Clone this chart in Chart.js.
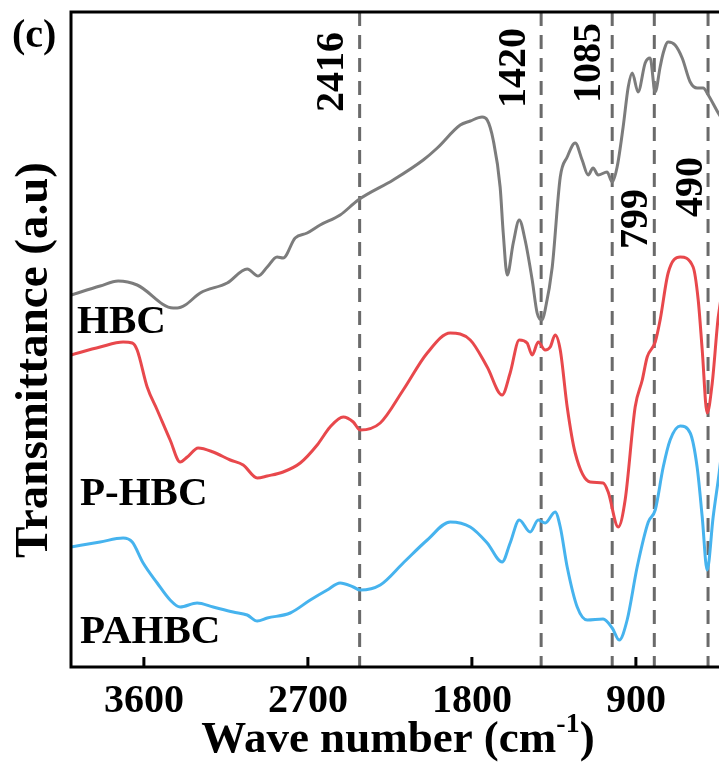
<!DOCTYPE html>
<html>
<head>
<meta charset="utf-8">
<title>FTIR (c)</title>
<script src="https://cdn.jsdelivr.net/npm/chart.js@4.4.1/dist/chart.umd.min.js"></script>
<style>
  html, body { margin: 0; padding: 0; background: #fff; overflow: hidden; }
  #wrap { width: 719px; height: 769px; overflow: hidden; }
</style>
</head>
<body>
<div id="wrap"><canvas id="myChart" width="727" height="769"></canvas></div>
<script>
// wave numbers (cm-1) and transmittance (a.u.)
const hbcWn = [4000, 3840, 3741, 3637, 3439, 3417, 3373, 3291, 3143, 3033, 2973, 2923, 2869, 2836, 2770, 2704, 2633, 2523, 2424, 2232, 2067, 1990, 1864, 1809, 1744, 1716, 1683, 1645, 1628, 1606, 1573, 1540, 1508, 1469, 1442, 1414, 1398, 1359, 1315, 1277, 1233, 1195, 1162, 1135, 1107, 1058, 1030, 1003, 970, 942, 920, 888, 849, 822, 794, 767, 750, 723, 685, 646, 602, 564, 531, 503, 448, 400];
const hbcT = [372, 381, 386, 382, 359, 359, 362, 374, 384, 398, 391, 400, 410, 409, 429, 434, 442, 452, 467, 487, 507, 519, 542, 546, 550, 547, 527, 480, 434, 392, 424, 447, 427, 387, 354, 347, 357, 400, 490, 510, 524, 507, 492, 499, 492, 495, 485, 500, 540, 580, 594, 575, 604, 609, 575, 600, 614, 625, 622, 609, 585, 579, 579, 572, 554, 540];

const phbcWn = [4000, 3840, 3714, 3664, 3637, 3582, 3527, 3456, 3401, 3362, 3302, 3220, 3126, 3055, 2978, 2923, 2836, 2742, 2649, 2578, 2506, 2451, 2413, 2303, 2177, 2045, 1919, 1809, 1716, 1634, 1590, 1540, 1497, 1469, 1436, 1398, 1370, 1343, 1315, 1277, 1233, 1151, 1080, 1052, 997, 959, 904, 865, 838, 794, 767, 723, 657, 586, 558, 536, 509, 481, 448, 400];
const phbcT = [312, 320, 325, 324, 317, 280, 257, 227, 205, 210, 219, 215, 207, 202, 189, 191, 195, 204, 222, 240, 250, 245, 237, 244, 277, 314, 334, 327, 300, 272, 294, 327, 324, 312, 325, 317, 320, 332, 317, 260, 214, 185, 184, 175, 140, 167, 260, 287, 310, 325, 347, 394, 410, 400, 367, 317, 254, 284, 350, 400];

const pahbcWn = [4000, 3840, 3714, 3664, 3604, 3527, 3456, 3401, 3308, 3220, 3110, 3033, 2978, 2923, 2797, 2687, 2594, 2523, 2451, 2413, 2303, 2177, 2045, 1919, 1809, 1716, 1634, 1590, 1540, 1480, 1436, 1398, 1343, 1315, 1277, 1222, 1167, 1080, 1030, 992, 948, 893, 832, 794, 750, 712, 657, 602, 564, 536, 509, 476, 443, 400];
const pahbcT = [120, 125, 129, 125, 104, 84, 67, 60, 64, 60, 55, 52, 46, 49, 54, 67, 77, 84, 80, 77, 82, 104, 127, 145, 140, 124, 105, 124, 147, 135, 147, 144, 155, 140, 100, 60, 47, 48, 39, 27, 47, 100, 145, 157, 200, 227, 241, 234, 200, 150, 97, 150, 194, 260];

// dashed marker lines (where they sit in the figure) and their labels
const markerWn = [2416, 1420, 1030, 799, 504];
const markerText = ["2416", "1420", "1085", "799", "490"];

const xTicks = [3600, 2700, 1800, 900];
const seriesNames = ["HBC", "P-HBC", "PAHBC"];

const FONT = '"Liberation Serif", "Times New Roman", serif';
const Y_MAX = 655;

function toPoints(xs, ys) {
  const pts = [];
  for (let i = 0; i < xs.length; i++) pts.push({ x: xs[i], y: ys[i] });
  return pts;
}

function spectrum(label, xs, ys, color) {
  return {
    label: label,
    data: toPoints(xs, ys),
    borderColor: color,
    borderWidth: 3,
    pointRadius: 0,
    cubicInterpolationMode: "monotone",
    fill: false,
  };
}

const datasets = [
  spectrum("HBC", hbcWn, hbcT, "#7c7c7c"),
  spectrum("P-HBC", phbcWn, phbcT, "#e8484c"),
  spectrum("PAHBC", pahbcWn, pahbcT, "#46b3ee"),
];
markerWn.forEach(function (w) {
  datasets.push({
    data: [{ x: w, y: Y_MAX }, { x: w, y: 0 }],
    borderColor: "#6a6a6a",
    borderWidth: 3,
    borderDash: [14, 9],
    pointRadius: 0,
    tension: 0,
  });
});

// label placement: offset of rotated text baseline from its line, and centre y
const markerLabelPos = [
  { dx: -17, y: 72 },
  { dx: -16, y: 68 },
  { dx: -12, y: 63 },
  { dx: -7, y: 219 },
  { dx: -6, y: 187 },
];
const seriesLabelPos = [
  { x: 77, y: 333 },
  { x: 80, y: 505 },
  { x: 80, y: 643 },
];

const decorPlugin = {
  id: "decor",
  afterDraw(chart) {
    const ctx = chart.ctx;
    const a = chart.chartArea;
    const xs = chart.scales.x;

    ctx.save();
    ctx.fillStyle = "#000";
    ctx.strokeStyle = "#000";

    // frame (right side is outside the window)
    ctx.lineWidth = 3;
    ctx.beginPath();
    ctx.moveTo(a.right + 2, a.top);
    ctx.lineTo(a.left, a.top);
    ctx.lineTo(a.left, a.bottom);
    ctx.lineTo(a.right + 2, a.bottom);
    ctx.stroke();

    // inward ticks + labels
    ctx.font = "bold 40px " + FONT;
    ctx.textAlign = "center";
    ctx.textBaseline = "alphabetic";
    xs.ticks.forEach(function (t) {
      const px = xs.getPixelForValue(t.value);
      ctx.beginPath();
      ctx.moveTo(px, a.bottom);
      ctx.lineTo(px, a.bottom - 10);
      ctx.stroke();
      ctx.fillText(String(t.value), px, 712);
    });

    // x title with superscript
    const main = "Wave number (cm";
    const sup = "-1";
    const close = ")";
    ctx.font = "bold 45px " + FONT;
    const wMain = ctx.measureText(main).width;
    const wClose = ctx.measureText(close).width;
    ctx.font = "bold 28px " + FONT;
    const wSup = ctx.measureText(sup).width;
    const total = wMain + wSup + wClose;
    let tx = 398 - total / 2;
    ctx.textAlign = "left";
    ctx.font = "bold 45px " + FONT;
    ctx.fillText(main, tx, 752);
    tx += wMain;
    ctx.font = "bold 28px " + FONT;
    ctx.fillText(sup, tx, 732);
    tx += wSup;
    ctx.font = "bold 45px " + FONT;
    ctx.fillText(close, tx, 752);

    // y title
    ctx.save();
    ctx.translate(47, 360);
    ctx.rotate(-Math.PI / 2);
    ctx.textAlign = "center";
    ctx.font = "bold 47px " + FONT;
    ctx.fillText("Transmittance (a.u)", 0, 0);
    ctx.restore();

    // panel letter
    ctx.font = "bold 40px " + FONT;
    ctx.textAlign = "left";
    ctx.fillText("(c)", 12, 47);

    // series names
    ctx.font = "bold 41px " + FONT;
    seriesNames.forEach(function (n, i) {
      ctx.fillText(n, seriesLabelPos[i].x, seriesLabelPos[i].y);
    });

    // marker labels, rotated
    ctx.font = "bold 40px " + FONT;
    ctx.textAlign = "center";
    markerWn.forEach(function (w, i) {
      const px = xs.getPixelForValue(w) + markerLabelPos[i].dx;
      ctx.save();
      ctx.translate(px, markerLabelPos[i].y);
      ctx.rotate(-Math.PI / 2);
      ctx.fillText(markerText[i], 0, 0);
      ctx.restore();
    });

    ctx.restore();
  },
};

const ctx = document.getElementById("myChart").getContext("2d");
const myChart = new Chart(ctx, {
  type: "line",
  data: { datasets: datasets },
  options: {
    responsive: false,
    animation: false,
    layout: { padding: { top: 12, left: 0, right: 0, bottom: 0 } },
    plugins: { legend: { display: false }, tooltip: { enabled: false } },
    scales: {
      x: {
        type: "linear",
        reverse: true,
        min: 400,
        max: 4000,
        grid: { display: false },
        border: { display: false },
        ticks: { display: false },
        afterBuildTicks(scale) {
          scale.ticks = xTicks.map(function (v) { return { value: v }; });
        },
        afterFit(scale) { scale.height = 102; },
      },
      y: {
        min: 0,
        max: Y_MAX,
        grid: { display: false },
        border: { display: false },
        ticks: { display: false },
        afterFit(scale) { scale.width = 71; },
      },
    },
  },
  plugins: [decorPlugin],
});
</script>
</body>
</html>
